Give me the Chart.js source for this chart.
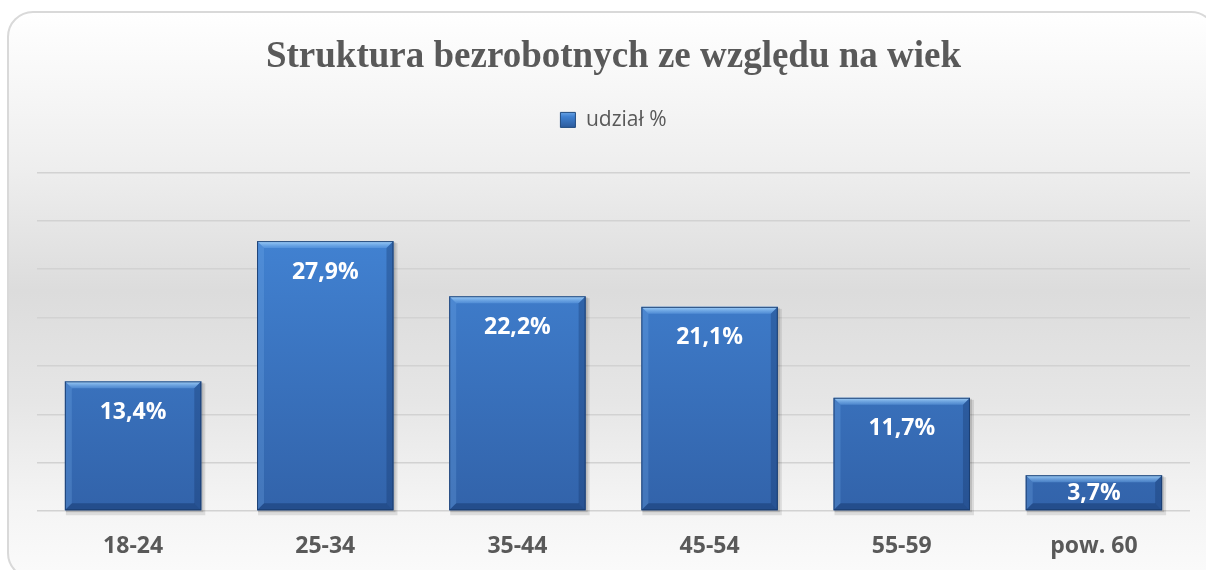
<!DOCTYPE html>
<html>
<head>
<meta charset="utf-8">
<script src="https://cdn.jsdelivr.net/npm/chart.js@4/dist/chart.umd.min.js"></script>
<style>
  html, body { margin: 0; padding: 0; background: #fff; }
  #wrap { width: 1206px; height: 570px; }
</style>
</head>
<body>
<div id="wrap"><canvas id="bezrobociChart"></canvas></div>
<script>
const kategorie = ['18-24', '25-34', '35-44', '45-54', '55-59', 'pow. 60'];
const udzial = [13.4, 27.9, 22.2, 21.1, 11.7, 3.7];
const tytul = 'Struktura bezrobotnych ze względu na wiek';
const nazwaSerii = 'udział %';

// tło: zaokrąglona ramka z gradientem
const tloPlugin = {
    id: 'tlo',
    beforeDraw(chart) {
        const ctx = chart.ctx;
        const x = 8, y = 12, w = 1208, h = 566, r = 25;
        const g = ctx.createLinearGradient(0, y, 0, 570);
        g.addColorStop(0, '#ffffff');
        g.addColorStop(0.28, '#eeeeee');
        g.addColorStop(0.5, '#dcdcdc');
        g.addColorStop(0.7, '#e6e6e6');
        g.addColorStop(0.88, '#f4f4f4');
        g.addColorStop(1, '#fafafa');
        ctx.save();
        ctx.beginPath();
        ctx.roundRect(x, y, w, h, r);
        ctx.fillStyle = g;
        ctx.fill();
        ctx.lineWidth = 2;
        ctx.strokeStyle = '#d9d9d9';
        ctx.stroke();
        ctx.restore();
    }
};

// cień pod słupkami
const cienPlugin = {
    id: 'cien',
    beforeDatasetsDraw(chart) {
        const ctx = chart.ctx;
        ctx.save();
        chart.getDatasetMeta(0).data.forEach(bar => {
            const w = bar.width;
            ctx.fillStyle = 'rgba(0,0,0,0.10)';
            ctx.fillRect(bar.x - w / 2 + 1, bar.y + 2, w + 3, bar.base - bar.y + 3);
            ctx.fillStyle = 'rgba(0,0,0,0.12)';
            ctx.fillRect(bar.x - w / 2 + 1, bar.y + 1, w + 1, bar.base - bar.y + 1);
        });
        ctx.restore();
    }
};

// fazowanie krawędzi + etykiety wartości
const fazaPlugin = {
    id: 'faza',
    afterDatasetsDraw(chart) {
        const ctx = chart.ctx;
        const d = 7;
        ctx.save();
        chart.getDatasetMeta(0).data.forEach((bar, i) => {
            const l = bar.x - bar.width / 2, r = bar.x + bar.width / 2;
            const t = bar.y, b = bar.base;
            const dd = Math.min(d, (b - t) / 2);
            // góra
            const gt = ctx.createLinearGradient(0, t, 0, t + dd);
            gt.addColorStop(0, 'rgba(175,220,255,0.9)');
            gt.addColorStop(1, 'rgba(110,170,235,0.4)');
            ctx.fillStyle = gt;
            ctx.beginPath();
            ctx.moveTo(l, t); ctx.lineTo(r, t); ctx.lineTo(r - dd, t + dd); ctx.lineTo(l + dd, t + dd);
            ctx.closePath(); ctx.fill();
            // lewa
            ctx.fillStyle = 'rgba(120,175,235,0.25)';
            ctx.beginPath();
            ctx.moveTo(l, t); ctx.lineTo(l + dd, t + dd); ctx.lineTo(l + dd, b - dd); ctx.lineTo(l, b);
            ctx.closePath(); ctx.fill();
            // prawa
            ctx.fillStyle = 'rgba(15,45,95,0.30)';
            ctx.beginPath();
            ctx.moveTo(r, t); ctx.lineTo(r - dd, t + dd); ctx.lineTo(r - dd, b - dd); ctx.lineTo(r, b);
            ctx.closePath(); ctx.fill();
            // dół
            ctx.fillStyle = 'rgba(15,45,95,0.40)';
            ctx.beginPath();
            ctx.moveTo(l, b); ctx.lineTo(r, b); ctx.lineTo(r - dd, b - dd); ctx.lineTo(l + dd, b - dd);
            ctx.closePath(); ctx.fill();
            ctx.strokeStyle = 'rgba(25,60,110,0.9)';
            ctx.lineWidth = 1;
            ctx.strokeRect(l + 0.5, t + 0.5, bar.width - 1, b - t - 1);

            ctx.fillStyle = '#ffffff';
            ctx.font = 'bold 23px "Open Sans"';
            ctx.textAlign = 'center';
            ctx.textBaseline = 'middle';
            const txt = udzial[i].toFixed(1).replace('.', ',') + '%';
            const ty = (b - t) < 55 ? (t + b) / 2 + 1 : t + 31;
            ctx.fillText(txt, bar.x, ty);
        });
        ctx.restore();
    }
};

const ctx = document.getElementById('bezrobociChart').getContext('2d');

// gradient dla kwadracika legendy
const legendaGrad = ctx.createLinearGradient(0, 110, 0, 127);
legendaGrad.addColorStop(0, '#7fb5ee');
legendaGrad.addColorStop(0.4, '#3f80d0');
legendaGrad.addColorStop(1, '#2d5d9e');

new Chart(ctx, {
    type: 'bar',
    data: {
        labels: kategorie,
        datasets: [{
            label: nazwaSerii,
            data: udzial,
            xAxisID: 'x',
            backgroundColor: (c) => {
                const a = c.chart.chartArea;
                if (!a) return '#3a78c6';
                const g = c.chart.ctx.createLinearGradient(0, a.top, 0, a.bottom);
                g.addColorStop(0, '#4589db');
                g.addColorStop(1, '#3263aa');
                return g;
            },
            borderWidth: 0,
            categoryPercentage: 1,
            barPercentage: 0.71
        }]
    },
    options: {
        responsive: true,
        maintainAspectRatio: false,
        animation: false,
        layout: { padding: { left: 37, right: 16, top: 35, bottom: 0 } },
        plugins: {
            title: {
                display: true,
                text: tytul,
                color: '#595959',
                font: { family: 'Liberation Serif', size: 37, weight: 'bold' },
                padding: { top: 0, bottom: 20 }
            },
            legend: {
                display: true,
                labels: {
                    color: '#595959',
                    font: { family: 'Open Sans', size: 21 },
                    boxWidth: 15,
                    boxHeight: 15,
                    generateLabels: (chart) => [{
                        text: nazwaSerii,
                        fillStyle: legendaGrad,
                        strokeStyle: '#1f4a80',
                        lineWidth: 1,
                        fontColor: '#595959',
                        datasetIndex: 0
                    }]
                }
            },
            tooltip: { enabled: false }
        },
        scales: {
            y: {
                min: 0,
                max: 35,
                ticks: { display: false, stepSize: 5 },
                grid: { color: '#d2d2d2', drawTicks: false, lineWidth: 1.5 },
                border: { display: false }
            },
            x: {
                grid: { display: false, drawTicks: false },
                border: { display: false },
                ticks: {
                    color: '#595959',
                    padding: 22,
                    font: { family: 'Open Sans', size: 23, weight: 'bold' }
                },
                afterFit: (s) => { s.height = 59; }
            },
            odstep: {
                type: 'category',
                position: 'top',
                labels: kategorie,
                grid: { display: false, drawTicks: false },
                border: { display: false },
                ticks: { display: false },
                afterFit: (s) => { s.height = 32; }
            }
        }
    },
    plugins: [tloPlugin, cienPlugin, fazaPlugin]
});
</script>
</body>
</html>
